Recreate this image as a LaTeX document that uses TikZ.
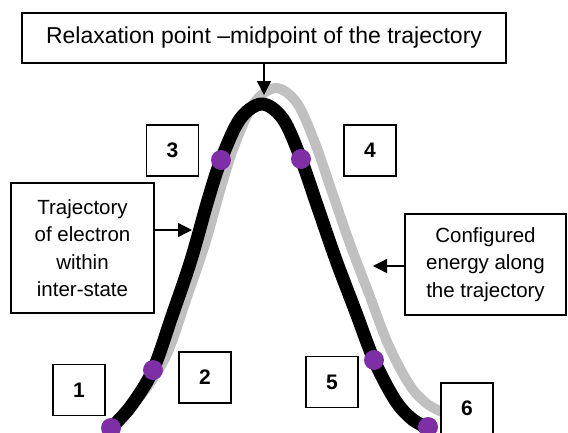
\documentclass[tikz,border=0pt]{standalone}
\usepackage{fontspec}
\setmainfont{Liberation Sans}
\usetikzlibrary{arrows.meta}
\definecolor{dotpurple}{HTML}{7F2FA5}
\definecolor{trailgray}{HTML}{C0C0C0}
\begin{document}
\begin{tikzpicture}[x=1pt,y=-1pt,
  box/.style={draw=black, fill=white, line width=1.2pt, inner sep=0pt, outer sep=0pt},
  numbox/.style={box, minimum width=52pt, minimum height=51pt, font=\fontsize{21}{25}\selectfont\bfseries},
  txt/.style={font=\fontsize{20.5}{27.5}\selectfont, align=center},
  pointer/.style={line width=1.3pt, -{Triangle[length=14pt,width=14pt]}},
  dot/.style={circle, fill=dotpurple, inner sep=0pt, minimum size=20pt},
  curveline/.style={line width=13pt, line cap=butt, line join=round},
  trail/.style={draw=trailgray, line width=10pt, line cap=butt, line join=round}]
\useasboundingbox (0,0) rectangle (568,432);
\def\curvepts{(111,428) (131,406) (153,370) (172,316) (191,260) (208,200) (221,160) (240,119) (262,104) (283,119) (301,159) (318,208) (336,260) (355,310) (374,360) (395,400) (412,419) (428,428)}
% gray configured energy curve
\draw[trail, shift={(14,-16)}] plot[smooth, tension=0.55] coordinates {\curvepts};
% black trajectory
\draw[curveline] plot[smooth, tension=0.55] coordinates {\curvepts};
% dots
\node[dot] (p1) at (111,428) {};
\node[dot] (p2) at (153,370) {};
\node[dot] (p3) at (221,160) {};
\node[dot] (p4) at (301,159) {};
\node[dot] (p5) at (374,360) {};
\node[dot] (p6) at (428,427) {};
% number boxes
\node[numbox] (n1) at (79,390) {1};
\node[numbox] (n2) at (205,377.5) {2};
\node[numbox] (n3) at (172.5,150.5) {3};
\node[numbox] (n4) at (370,150.5) {4};
\node[numbox] (n5) at (332,382) {5};
\node[numbox] (n6) at (467,408.5) {6};
% text boxes
\node[box, minimum width=484pt, minimum height=50pt, font=\fontsize{23}{27}\selectfont] (top) at (264,38) {Relaxation point –midpoint of the trajectory};
\node[box, txt, minimum width=143pt, minimum height=130pt] (traj) at (82.5,248) {Trajectory\\of electron\\within\\inter-state};
\node[box, txt, minimum width=161pt, minimum height=101pt] (conf) at (485.5,264.5) {Configured\\energy along\\the trajectory};
% pointers
\coordinate (peak) at (264,95);
\coordinate (trajtip) at (192,230);
\coordinate (conftip) at (373,266);
\draw[pointer] (top.south -| peak) -- (peak);
\draw[pointer] (traj.east |- trajtip) -- (trajtip);
\draw[pointer] (conf.west |- conftip) -- (conftip);
\end{tikzpicture}
\end{document}
